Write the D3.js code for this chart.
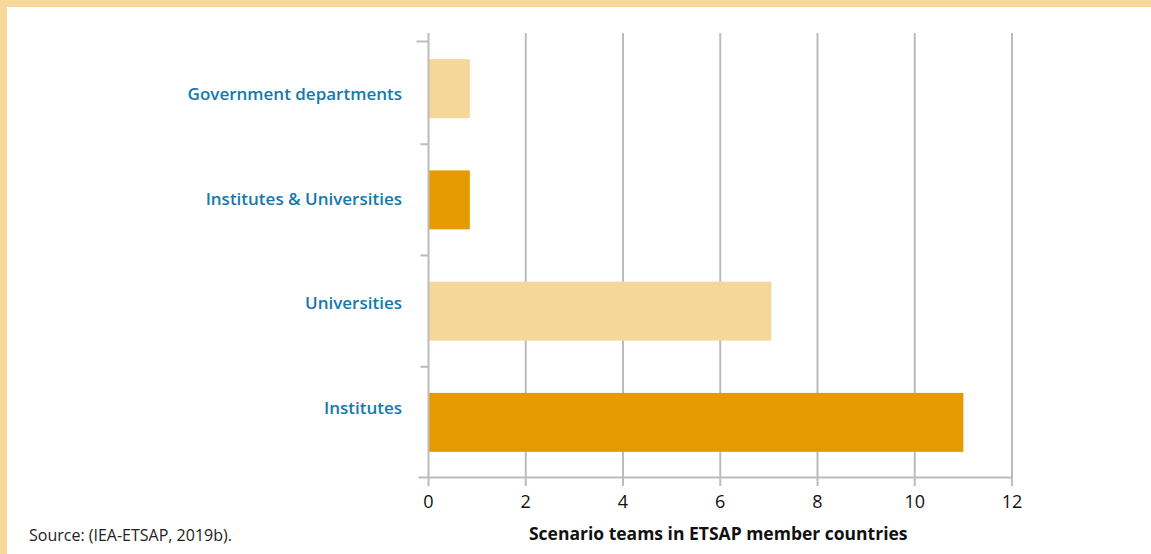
<!DOCTYPE html>
<html>
<head>
<meta charset="utf-8">
<script src="https://cdn.jsdelivr.net/npm/d3@7"></script>
<style>
  html, body { margin: 0; padding: 0; background: #fff; }
  svg { display: block; }
</style>
</head>
<body>
<svg id="chart" width="1151" height="554"></svg>
<script>
// Scenario teams in ETSAP member countries, by type of organisation
const categories = ["Government departments", "Institutes & Universities", "Universities", "Institutes"];
const teamCounts = [0.85, 0.85, 7.05, 11];
const barColors = ["#f5d799", "#e59b00", "#f5d799", "#e59b00"];
const xTicks = [0, 2, 4, 6, 8, 10, 12];
const xTitle = "Scenario teams in ETSAP member countries";
const sourceNote = "Source: (IEA-ETSAP, 2019b).";

const svg = d3.select("#chart");
const W = 1151, H = 554;
const frame = "#f5d89a";
const gridColor = "#bcbcbc";
const fontFam = "'Open Sans', Lato, sans-serif";

// frame along top and left edges
svg.append("rect").attr("x", 0).attr("y", 0).attr("width", W).attr("height", 7).attr("fill", frame);
svg.append("rect").attr("x", 0).attr("y", 0).attr("width", 7).attr("height", H).attr("fill", frame);

const plotTop = 33, plotBottom = 478;
const x = d3.scaleLinear().domain([0, 12]).range([428.5, 1012]);
const y = d3.scaleBand().domain(categories).range([plotTop, plotBottom])
  .paddingInner(0.47).paddingOuter(0.235);
// category labels sit on their own evenly spaced rows
const yLabel = d3.scaleBand().domain(categories).range([41.7, 460.5]);

// vertical gridlines with tick stubs below the axis
const grid = svg.append("g");
grid.selectAll("line.grid").data(xTicks.slice(1)).join("line")
  .attr("class", "grid")
  .attr("x1", d => x(d)).attr("x2", d => x(d))
  .attr("y1", plotTop).attr("y2", plotBottom + 8)
  .attr("stroke", gridColor).attr("stroke-width", 2);

// bars
svg.append("g").selectAll("rect").data(categories).join("rect")
  .attr("x", x(0))
  .attr("y", d => y(d))
  .attr("width", (d, i) => x(teamCounts[i]) - x(0))
  .attr("height", y.bandwidth())
  .attr("fill", (d, i) => barColors[i]);

// category axis line and separators
svg.append("line")
  .attr("x1", x(0)).attr("x2", x(0))
  .attr("y1", plotTop).attr("y2", plotBottom + 8)
  .attr("stroke", gridColor).attr("stroke-width", 2);
const step = y.step();
const sepYs = [plotTop + 8.5, plotTop + step, plotTop + 2 * step, plotTop + 3 * step];
svg.append("g").selectAll("line").data(sepYs).join("line")
  .attr("x1", (d, i) => i === 0 ? x(0) - 12 : x(0) - 8).attr("x2", x(0))
  .attr("y1", d => d).attr("y2", d => d)
  .attr("stroke", gridColor).attr("stroke-width", 2);

// value axis baseline
svg.append("line")
  .attr("x1", x(0) - 10).attr("x2", x(12))
  .attr("y1", plotBottom - 0.5).attr("y2", plotBottom - 0.5)
  .attr("stroke", gridColor).attr("stroke-width", 2);

// x tick labels
svg.append("g").selectAll("text").data(xTicks).join("text")
  .attr("x", d => x(d)).attr("y", 508)
  .attr("text-anchor", "middle")
  .attr("font-family", fontFam).attr("font-size", 18).attr("font-weight", 500)
  .attr("fill", "#111")
  .text(d => d);

// category labels
svg.append("g").selectAll("text").data(categories).join("text")
  .attr("x", 402).attr("y", d => yLabel(d) + yLabel.bandwidth() / 2)
  .attr("dy", "0.35em")
  .attr("text-anchor", "end")
  .attr("font-family", fontFam).attr("font-size", 17).attr("font-weight", 600)
  .attr("fill", "#1479ad")
  .text(d => d);

// axis title
svg.append("text")
  .attr("x", (x(0) + x(12)) / 2 - 2).attr("y", 540)
  .attr("text-anchor", "middle")
  .attr("font-family", fontFam).attr("font-size", 17.5).attr("font-weight", "bold")
  .attr("fill", "#111")
  .text(xTitle);

// source note
svg.append("text")
  .attr("x", 29).attr("y", 541)
  .attr("font-family", fontFam).attr("font-size", 16)
  .attr("fill", "#222")
  .text(sourceNote);
</script>
</body>
</html>
